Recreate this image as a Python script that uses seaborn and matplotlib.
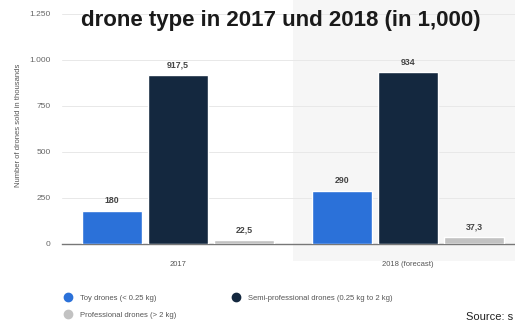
import matplotlib
matplotlib.use("Agg")
import matplotlib.pyplot as plt
import seaborn as sns
import pandas as pd
from matplotlib.lines import Line2D

years = ["2017", "2018 (forecast)"]
types = ["Toy drones (< 0.25 kg)", "Semi-professional drones (0.25 kg to 2 kg)", "Professional drones (> 2 kg)"]
toy = [180, 290]
semi = [917.5, 934]
pro = [22.5, 37.3]
value_labels = [["180", "290"], ["917,5", "934"], ["22,5", "37,3"]]
yticks = [0, 250, 500, 750, 1000, 1250]
ytick_labels = ["0", "250", "500", "750", "1.000", "1.250"]
colors = ["#2b71d9", "#14283f", "#c2c2c2"]

rows = []
for t, vals in zip(types, [toy, semi, pro]):
    for y, v in zip(years, vals):
        rows.append({"year": y, "type": t, "value": v})
df = pd.DataFrame(rows)

sns.set_style("white")
plt.rcParams["font.family"] = ["Liberation Sans", "DejaVu Sans"]

fig = plt.figure(figsize=(5.15, 3.23), dpi=100)
ax = fig.add_axes([0.120, 0.2446, 0.88, 0.7350])

ax.axvspan(0.5, 1.6, ymin=-0.07, ymax=1.05, color="#f6f6f6", zorder=0, clip_on=False, lw=0)

sns.barplot(data=df, x="year", y="value", hue="type", hue_order=types, palette=colors,
            width=0.86, gap=0.1, legend=False, ax=ax, zorder=3, saturation=1)

ax.set_xlim(-0.505, 1.465)
ax.set_ylim(0, 1290)
ax.set_yticks(yticks)
ax.set_yticklabels(ytick_labels, fontsize=6, color="#666666")
ax.tick_params(axis="y", length=0, pad=8)
ax.tick_params(axis="x", length=0, pad=12, labelsize=5.5, labelcolor="#555555")
ax.grid(axis="y", color="#e8e8e8", lw=0.7, zorder=1)
for s in ["top", "right", "left"]:
    ax.spines[s].set_visible(False)
ax.spines["bottom"].set_color("#777777")
ax.spines["bottom"].set_linewidth(1.0)
ax.set_xlabel("")
ax.set_ylabel("Number of drones sold in thousands", fontsize=5.5, color="#555555", labelpad=5)

for container, labs in zip(ax.containers, value_labels):
    ax.bar_label(container, labels=labs, padding=4, fontsize=6.3, fontweight="bold", color="#444444")

fig.text(0.545, 0.937, "drone type in 2017 und 2018 (in 1,000)", ha="center", va="center",
         fontsize=16, fontweight="bold", color="#1a1a1a")

handles = [Line2D([], [], marker="o", ls="", color=colors[0], markersize=6),
           Line2D([], [], marker="o", ls="", color=colors[2], markersize=6),
           Line2D([], [], marker="o", ls="", color=colors[1], markersize=6)]
labels = [types[0], types[2], types[1]]
fig.legend(handles, labels, ncol=2, loc="upper left", bbox_to_anchor=(0.118, 0.098),
           frameon=False, fontsize=5.5, labelcolor="#555555", handletextpad=1.1,
           columnspacing=7.3, labelspacing=1.3, handlelength=1.0, borderaxespad=0)

fig.text(0.905, 0.003, "Source: s", fontsize=8, color="#222222", ha="left", va="bottom")

fig.savefig("out.png", dpi=100)
